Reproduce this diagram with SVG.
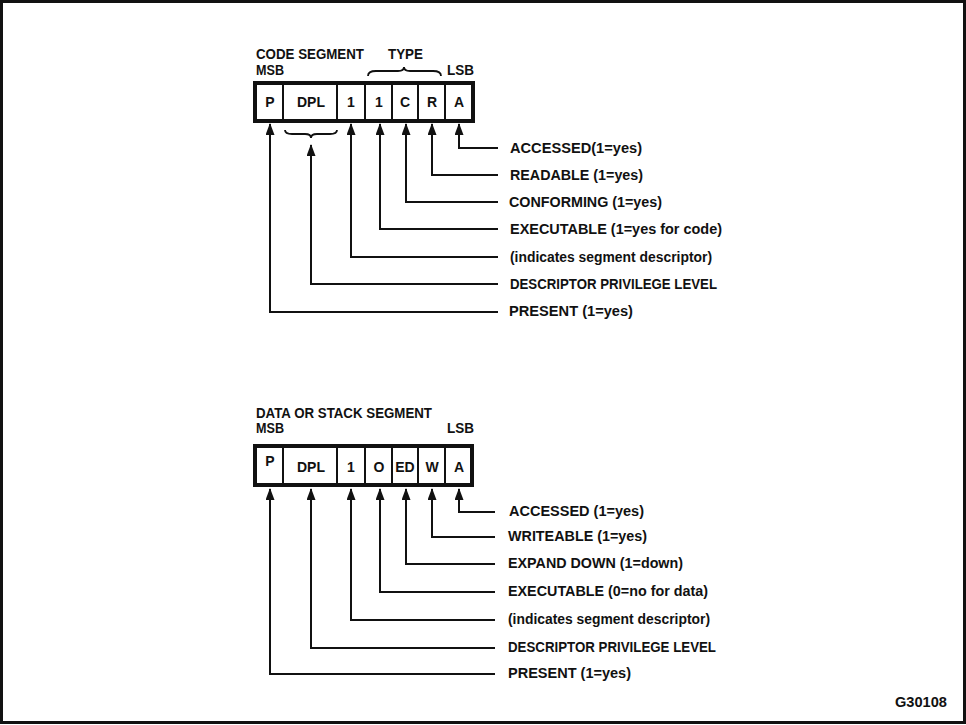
<svg xmlns="http://www.w3.org/2000/svg" width="966" height="725" viewBox="0 0 966 725">
<style>
.t{font-family:"Liberation Sans",Arial,Helvetica,sans-serif;font-weight:bold;font-size:14px;fill:#111}
.l{font-family:"Liberation Sans",Arial,Helvetica,sans-serif;font-weight:bold;font-size:14.5px;fill:#111}
.c{font-family:"Liberation Sans",Arial,Helvetica,sans-serif;font-weight:bold;font-size:14px;fill:#111;text-anchor:middle}
.box{fill:#fff;stroke:#111;stroke-width:4}
.div{stroke:#111;stroke-width:2}
.ln{fill:none;stroke:#111;stroke-width:2;marker-end:url(#ah)}
.br{fill:none;stroke:#111;stroke-width:1.8}
</style>
<defs>
<marker id="ah" markerUnits="userSpaceOnUse" markerWidth="14" markerHeight="10" refX="11" refY="4.5" orient="auto">
<path d="M0,0 L12,4.5 L0,9 z" fill="#111"/>
</marker>
</defs>
<rect x="1.5" y="1.5" width="963" height="721" fill="#fff" stroke="#111" stroke-width="3"/>

<g id="code-segment">
<text class="t" x="256" y="59" textLength="108" lengthAdjust="spacingAndGlyphs">CODE SEGMENT</text>
<text class="t" x="256" y="75" textLength="28" lengthAdjust="spacingAndGlyphs">MSB</text>
<text class="t" x="388" y="59" textLength="35" lengthAdjust="spacingAndGlyphs">TYPE</text>
<text class="t" x="447" y="75" textLength="27" lengthAdjust="spacingAndGlyphs">LSB</text>
<path class="br" d="M368,76 Q368,71 376,71 H398 Q404,71 404,67 Q404,71 410,71 H433 Q441,71 441,76"/>
<rect class="box" x="255" y="83" width="218" height="38"/>
<line class="div" x1="283" y1="83" x2="283" y2="121"/>
<line class="div" x1="337" y1="83" x2="337" y2="121"/>
<line class="div" x1="365" y1="83" x2="365" y2="121"/>
<line class="div" x1="392" y1="83" x2="392" y2="121"/>
<line class="div" x1="418" y1="83" x2="418" y2="121"/>
<line class="div" x1="445" y1="83" x2="445" y2="121"/>
<text class="c" x="270" y="107">P</text>
<text class="c" x="311" y="107">DPL</text>
<text class="c" x="351" y="107">1</text>
<text class="c" x="379" y="107">1</text>
<text class="c" x="405" y="107">C</text>
<text class="c" x="432" y="107">R</text>
<text class="c" x="459" y="107">A</text>
<path class="br" d="M285,130 Q285,134 292,134 H305 Q311,134 311,138 Q311,134 317,134 H330 Q337,134 337,130"/>
</g>

<g id="code-labels">
<text class="l" x="510" y="153" textLength="132" lengthAdjust="spacingAndGlyphs">ACCESSED(1=yes)</text>
<text class="l" x="510" y="180" textLength="133" lengthAdjust="spacingAndGlyphs">READABLE (1=yes)</text>
<text class="l" x="509" y="207" textLength="153" lengthAdjust="spacingAndGlyphs">CONFORMING (1=yes)</text>
<text class="l" x="510" y="234" textLength="212" lengthAdjust="spacingAndGlyphs">EXECUTABLE (1=yes for code)</text>
<text class="l" x="510" y="262" textLength="202" lengthAdjust="spacingAndGlyphs">(indicates segment descriptor)</text>
<text class="l" x="510" y="289" textLength="207" lengthAdjust="spacingAndGlyphs">DESCRIPTOR PRIVILEGE LEVEL</text>
<text class="l" x="509" y="316" textLength="124" lengthAdjust="spacingAndGlyphs">PRESENT (1=yes)</text>
</g>

<g id="data-segment">
<text class="t" x="256" y="418" textLength="176" lengthAdjust="spacingAndGlyphs">DATA OR STACK SEGMENT</text>
<text class="t" x="256" y="433" textLength="28" lengthAdjust="spacingAndGlyphs">MSB</text>
<text class="t" x="447" y="433" textLength="27" lengthAdjust="spacingAndGlyphs">LSB</text>
<rect class="box" x="255" y="446" width="217" height="39"/>
<line class="div" x1="283" y1="446" x2="283" y2="485"/>
<line class="div" x1="337" y1="446" x2="337" y2="485"/>
<line class="div" x1="365" y1="446" x2="365" y2="485"/>
<line class="div" x1="392" y1="446" x2="392" y2="485"/>
<line class="div" x1="418" y1="446" x2="418" y2="485"/>
<line class="div" x1="445" y1="446" x2="445" y2="485"/>
<text class="c" x="270" y="466">P</text>
<text class="c" x="311" y="472">DPL</text>
<text class="c" x="351" y="472">1</text>
<text class="c" x="379" y="472">O</text>
<text class="c" x="405" y="472">ED</text>
<text class="c" x="432" y="472">W</text>
<text class="c" x="459" y="472">A</text>
</g>

<g id="data-labels">
<text class="l" x="509" y="516" textLength="135" lengthAdjust="spacingAndGlyphs">ACCESSED (1=yes)</text>
<text class="l" x="508" y="541" textLength="139" lengthAdjust="spacingAndGlyphs">WRITEABLE (1=yes)</text>
<text class="l" x="508" y="568" textLength="175" lengthAdjust="spacingAndGlyphs">EXPAND DOWN (1=down)</text>
<text class="l" x="508" y="596" textLength="200" lengthAdjust="spacingAndGlyphs">EXECUTABLE (0=no for data)</text>
<text class="l" x="508" y="624" textLength="202" lengthAdjust="spacingAndGlyphs">(indicates segment descriptor)</text>
<text class="l" x="508" y="652" textLength="208" lengthAdjust="spacingAndGlyphs">DESCRIPTOR PRIVILEGE LEVEL</text>
<text class="l" x="508" y="678" textLength="123" lengthAdjust="spacingAndGlyphs">PRESENT (1=yes)</text>
</g>

<g id="connectors">
<path class="ln" d="M498,148 H459 V124"/>
<path class="ln" d="M498,175 H432 V124"/>
<path class="ln" d="M498,202 H406 V124"/>
<path class="ln" d="M498,229 H380 V124"/>
<path class="ln" d="M498,257 H351 V124"/>
<path class="ln" d="M498,284 H311 V145"/>
<path class="ln" d="M498,312 H270 V124"/>
<path class="ln" d="M495,512 H459 V489"/>
<path class="ln" d="M495,537 H432 V489"/>
<path class="ln" d="M495,564 H406 V489"/>
<path class="ln" d="M495,592 H380 V489"/>
<path class="ln" d="M495,620 H351 V489"/>
<path class="ln" d="M495,648 H311 V489"/>
<path class="ln" d="M495,674 H270 V489"/>
</g>

<text id="figure-id" class="t" x="895" y="707" textLength="52" lengthAdjust="spacingAndGlyphs" style="font-size:14.5px">G30108</text>
</svg>
